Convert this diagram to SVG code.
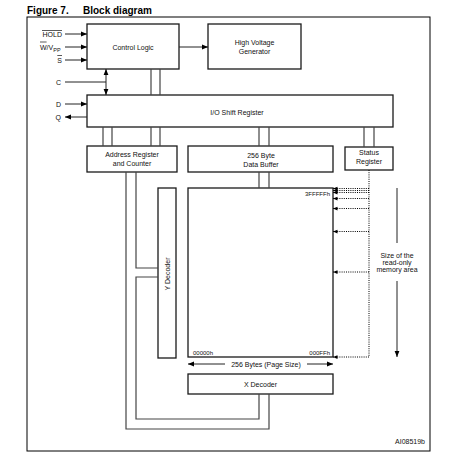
<svg xmlns="http://www.w3.org/2000/svg" width="458" height="463" viewBox="0 0 458 463">
<defs>
<marker id="ah" viewBox="0 0 6 6" refX="6" refY="3" markerWidth="6" markerHeight="6" markerUnits="userSpaceOnUse" orient="auto-start-reverse"><path d="M0,0.6 L6,3 L0,5.4 z" fill="#000"/></marker>
<marker id="ahs" viewBox="0 0 6 6" refX="6" refY="3" markerWidth="4.5" markerHeight="4.5" markerUnits="userSpaceOnUse" orient="auto"><path d="M0,0.5 L6,3 L0,5.5 z" fill="#000"/></marker>
</defs>
<style>
.box{fill:#fff;stroke:#1a1a1a;stroke-width:1.3}
.ln{fill:none;stroke:#222;stroke-width:1}
.bus{fill:none;stroke:#444;stroke-width:1.2}
.dot{fill:none;stroke:#000;stroke-width:1;stroke-dasharray:1 1.2}
.ar{marker-end:url(#ah)}
.ard{marker-end:url(#ahs)}
text{font-family:"Liberation Sans",Arial,sans-serif;font-size:7px;fill:#111}
.c{text-anchor:middle}
.r{text-anchor:end}
.sm{font-size:6px}
.title{font-size:10px;font-weight:bold;fill:#000}
</style>
<rect x="0" y="0" width="458" height="463" fill="#fff"/>
<text x="27" y="14" class="title">Figure 7.</text>
<text x="83" y="14" class="title">Block diagram</text>
<rect x="27" y="17" width="403" height="434" fill="none" stroke="#000" stroke-width="1"/>

<g id="inputs">
<text x="62" y="36.5" class="r">HOLD</text>
<line x1="42" y1="30.5" x2="62" y2="30.5" stroke="#111" stroke-width="0.7"/>
<text x="40" y="49.5">W/V<tspan font-size="5.5" dy="2">PP</tspan></text>
<line x1="40" y1="42" x2="46.6" y2="42" stroke="#111" stroke-width="0.7"/>
<text x="62" y="62.5" class="r">S</text>
<line x1="57.3" y1="55.5" x2="62" y2="55.5" stroke="#111" stroke-width="0.7"/>
<text x="61" y="84.5" class="r">C</text>
<text x="61" y="106.5" class="r">D</text>
<text x="61" y="119.5" class="r">Q</text>
</g>

<g id="control-logic"><rect class="box" x="87" y="24" width="92" height="45"/><text x="133" y="49.5" class="c">Control Logic</text></g>
<g id="hv-generator"><rect class="box" x="208" y="24" width="93" height="45"/><text x="254.5" y="44.5" class="c">High Voltage</text><text x="254.5" y="53.5" class="c">Generator</text></g>
<g id="io-shift-register"><rect class="box" x="87" y="95" width="306" height="32"/><text x="237" y="114.5" class="c">I/O Shift Register</text></g>
<g id="address-register"><rect class="box" x="87" y="146" width="90" height="26"/><text x="132" y="156.5" class="c">Address Register</text><text x="132" y="165.5" class="c">and Counter</text></g>
<g id="data-buffer"><rect class="box" x="188" y="146" width="145" height="26"/><text x="261" y="157.5" class="c">256 Byte</text><text x="261" y="166.5" class="c">Data Buffer</text></g>
<g id="status-register"><rect class="box" x="345" y="147" width="48" height="23"/><text x="369" y="154.5" class="c">Status</text><text x="369" y="163.5" class="c">Register</text></g>
<g id="y-decoder"><rect class="box" x="158" y="188" width="18" height="170"/><text transform="translate(169.5,274) rotate(-90)" class="c">Y Decoder</text></g>
<g id="memory-array"><rect class="box" x="188" y="188" width="145" height="169"/>
<text x="330" y="196" class="r sm">3FFFFFh</text>
<text x="193" y="354.5" class="sm">00000h</text>
<text x="330" y="354.5" class="r sm">000FFh</text></g>
<g id="x-decoder"><rect class="box" x="188" y="374" width="145" height="20"/><text x="260.5" y="386.5" class="c">X Decoder</text></g>

<g id="connectors">
<path class="ln ar" d="M65,34 H87"/>
<path class="ln ar" d="M65,47 H87"/>
<path class="ln ar" d="M65,60 H87"/>
<path class="ln ar" d="M179,47 H208"/>
<path class="ln" d="M65,82 H106"/>
<path class="ln ar" d="M106,82 V69"/>
<path class="ln ar" d="M106,82 V95"/>
<path class="ln ar" d="M65,104 H87"/>
<path class="ln ar" d="M87,117 H65"/>
<path class="bus" d="M151,69 V95 M160,69 V95"/>
<path class="bus" d="M103,127 V146 M112,127 V146 M151,127 V146 M160,127 V146"/>
<path class="bus" d="M259,127 V146 M269,127 V146"/>
<path class="bus" d="M364,127 V147 M374,127 V147"/>
<path class="bus" d="M259,172 V188 M269,172 V188"/>
<path class="bus" d="M136,172 V268 H158"/>
<path class="bus" d="M158,277 H136 V419 H259 V394"/>
<path class="bus" d="M126,172 V429 H269 V394"/>
<path class="dot" d="M369,170 V357"/>
<path class="dot ard" d="M369,188.5 H333"/>
<path class="dot ard" d="M369,190.5 H333"/>
<path class="dot ard" d="M369,192.5 H333"/>
<path class="dot ard" d="M369,198.5 H333"/>
<path class="dot ard" d="M369,208.5 H333"/>
<path class="dot ard" d="M369,231.5 H333"/>
<path class="dot ard" d="M369,272 H333"/>
<path class="dot ard" d="M369,357 H333"/>
<path class="ln ar" d="M225,364 H188"/>
<path class="ln ar" d="M307,364 H333"/>
<path class="ln" d="M397,188 V243"/>
<path class="ln ar" d="M397,281 V357"/>
</g>

<text x="266" y="366.5" class="c">256 Bytes (Page Size)</text>
<text x="397" y="257.5" class="c">Size of the</text>
<text x="397" y="264.5" class="c">read-only</text>
<text x="397" y="271.5" class="c">memory area</text>
<text x="425" y="444" class="r" font-size="5.5">AI08519b</text>
</svg>
